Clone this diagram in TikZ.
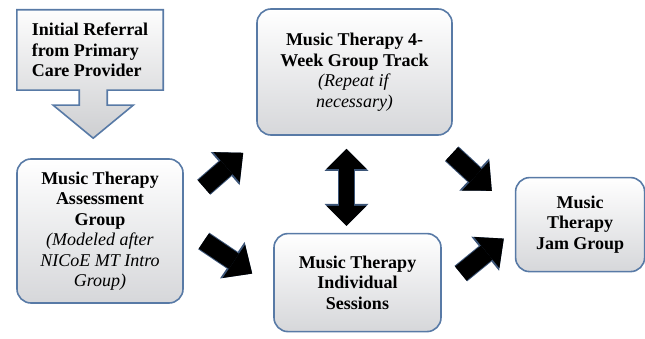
\documentclass[tikz,border=0pt]{standalone}
\usepackage{fontspec}
\setmainfont{LiberationSerif}[Extension=.ttf, UprightFont=*-Regular, BoldFont=*-Bold, ItalicFont=*-Italic, BoldItalicFont=*-BoldItalic]
\usepackage{xcolor}
\usepackage{tikz}
\usetikzlibrary{positioning}
\usetikzlibrary{arrows.meta}
\usetikzlibrary{calc}
\usetikzlibrary{backgrounds}

\definecolor{boxedge}{RGB}{88,122,166}
\definecolor{boxlow}{RGB}{214,215,218}
\definecolor{arrowglow}{RGB}{60,85,120}

\begin{document}
\begin{tikzpicture}[x=1pt,y=-1pt]
  \tikzset{Box/.style={rectangle, rounded corners=14pt, draw=boxedge, line width=1.6pt, top color=white, bottom color=boxlow, align=center, inner sep=0pt, font=\fontsize{18}{20.5}\selectfont}};
  \tikzset{Callout/.style={draw=boxedge, line width=1.6pt, top color=white!95!boxlow, bottom color=boxlow!90!gray}};
  \tikzset{BigArrow/.style={line width=18pt, -{Triangle[width=40pt,length=22pt,line width=0pt]}, preaction={draw=arrowglow, line width=20pt, -{Triangle[width=44pt,length=24pt,line width=0pt]}}}};
  \tikzset{BothArrow/.style={line width=15pt, {Triangle[width=40pt,length=20pt,line width=0pt]}-{Triangle[width=40pt,length=20pt,line width=0pt]}, preaction={draw=arrowglow, line width=17pt, {Triangle[width=44pt,length=22pt,line width=0pt]}-{Triangle[width=44pt,length=22pt,line width=0pt]}}}};
  \useasboundingbox (0,0) rectangle (645,339);
  \node[align=left, inner sep=0pt, minimum width=146pt, minimum height=80pt, font=\fontsize{18}{20.5}\selectfont\bfseries] (a) at (90,50) {Initial Referral\\from Primary\\Care Provider};
  \node[Box, minimum width=166pt, minimum height=144pt][below=68pt of a, xshift=10pt] (b) {\textbf{Music Therapy}\\\textbf{Assessment}\\\textbf{Group}\\\textit{(Modeled after}\\\textit{NICoE MT Intro}\\\textit{Group)}};
  \node[Box, minimum width=195pt, minimum height=126pt][right=93pt of a, yshift=-22pt] (c) {\textbf{Music Therapy 4-}\\\textbf{Week Group Track}\\\textit{(Repeat if}\\\textit{necessary)}};
  \node[Box, minimum width=167pt, minimum height=98pt][below=97pt of c, xshift=3pt] (d) {\textbf{Music Therapy}\\\textbf{Individual}\\\textbf{Sessions}};
  \node[Box, minimum width=129pt, minimum height=94pt][right=73pt of d, yshift=58pt] (e) {\textbf{Music}\\\textbf{Therapy}\\\textbf{Jam Group}};
  % referral box with its down arrow
  \begin{scope}[on background layer]
    \path[Callout] (a.north west) -- (a.north east) -- (a.south east) -- ++(-56,0) -- ++(0,15) -- ++(26,0) -- ++(-40,33) -- ++(-40,-33) -- ++(26,0) -- ++(0,-15) -- (a.south west) -- cycle;
  \end{scope}
  \draw[BigArrow] ($(b.north east)+(20,29)$) -- ($(c.south west)+(-13,17)$);
  \draw[BigArrow] ($(b.east)+(20,10)$) -- ($(d.west)+(-21,-9)$);
  \draw[BothArrow] ($(c.south)+(-8,13)$) -- ($(c.south |- d.north)+(-8,-7)$);
  \draw[BigArrow] ($(c.south east)+(-1,18)$) -- ($(e.north west)+(-23,14)$);
  \draw[BigArrow] ($(d.east)+(19,-9)$) -- ($(e.west)+(-11,14)$);
\end{tikzpicture}
\end{document}
